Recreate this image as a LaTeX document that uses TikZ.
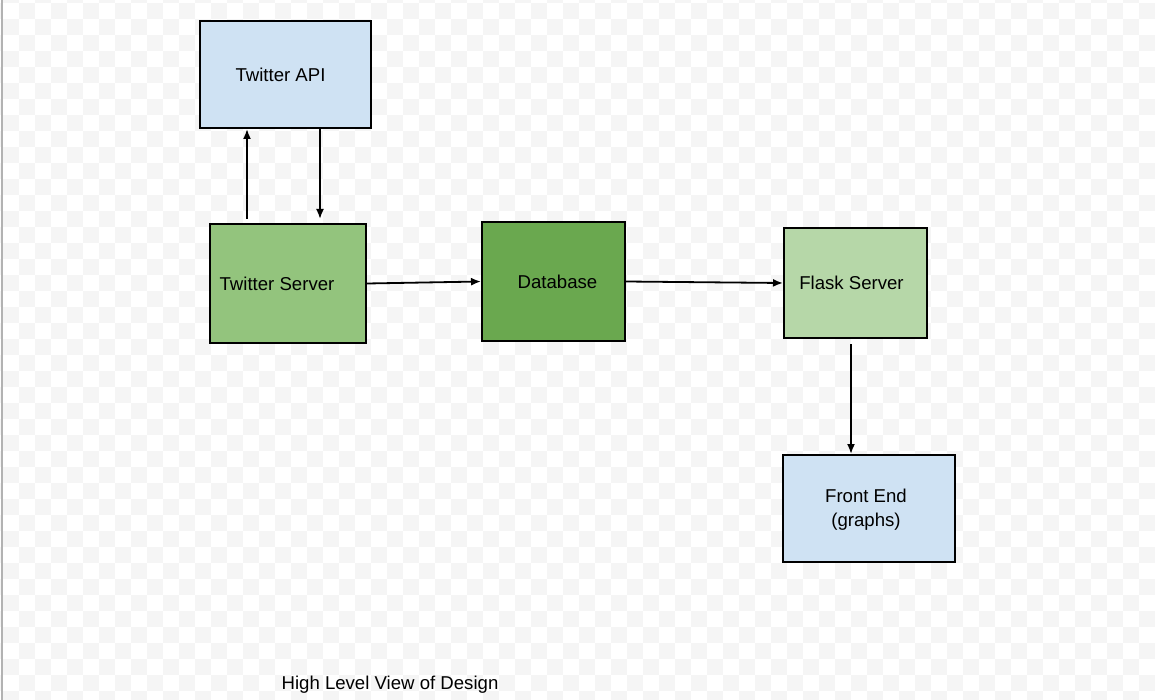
\documentclass[tikz,border=0pt]{standalone}
\usepackage{fontspec}
\setmainfont{Liberation Sans}
\usepackage{xcolor}
\usepackage{tikz}
\usetikzlibrary{arrows.meta}
\definecolor{paleblue}{HTML}{CFE2F3}
\definecolor{midgreen}{HTML}{93C47D}
\definecolor{darkgreen}{HTML}{6AA84F}
\definecolor{palegreen}{HTML}{B6D7A8}
\definecolor{checkgray}{HTML}{F5F5F5}
\tikzset{
  box/.style={draw=black, line width=1pt, inner sep=0pt},
  txt/.style={font=\fontsize{9.3}{11.8}\selectfont, align=center, inner sep=0pt},
  arr/.style={draw=black, line width=0.9pt, -{Latex[length=5pt,width=4pt]}}
}

\begin{document}
\begin{tikzpicture}[x=0.5pt, y=-0.5pt]
\useasboundingbox (0,0) rectangle (1155,700);
\fill[white] (0,0) rectangle (1155,700);
\begin{scope}
\clip (0,0) rectangle (1155,700);
\foreach \i in {0,...,72}
  \foreach \j in {0,...,44} {
    \pgfmathtruncatemacro{\odd}{mod(\i+\j,2)}
    \ifnum\odd=1
      \fill[checkgray] (\i*16-13,\j*16-13) rectangle ++(16,16);
    \fi
  }
\end{scope}
\draw[color=black!30, line width=0.8pt] (2,0) -- (2,700);

% boxes
\node[box, fill=paleblue, minimum width=85.5pt, minimum height=53.5pt,
  label={[txt, xshift=-2.5pt]center:Twitter API}] (api) at (285.5,74.5) {};
\node[box, fill=midgreen, minimum width=78pt, minimum height=59.5pt,
  label={[txt, xshift=-5.5pt]center:Twitter Server}] (tsrv) at (288,283.5) {};
\node[box, fill=darkgreen, minimum width=71.5pt, minimum height=59.5pt,
  label={[txt, xshift=2pt]center:Database}] (db) at (553.5,281.5) {};
\node[box, fill=palegreen, minimum width=71.5pt, minimum height=55pt,
  label={[txt, xshift=-2pt]center:Flask Server}] (flask) at (855.5,283) {};
\node[box, fill=paleblue, minimum width=86pt, minimum height=53.5pt,
  label={[txt, xshift=-1.5pt, yshift=-0.5pt]center:Front End\\(graphs)}] (front) at (869,508.5) {};

% connectors
\draw[arr] ([xshift=-20.5pt, yshift=2pt]tsrv.north) -- ([xshift=-19.25pt]api.south);
\draw[arr] ([xshift=17.25pt]api.south) -- ([xshift=16pt, yshift=2pt]tsrv.north);
\draw[arr] (tsrv.east) -- (db.west);
\draw[arr] (db.east) -- (flask.west);
\draw[arr] ([xshift=-2.25pt, yshift=-2.5pt]flask.south) -- ([xshift=-9pt]front.north);

\node[txt] (title) at (390,685) {High Level View of Design};
\end{tikzpicture}
\end{document}
